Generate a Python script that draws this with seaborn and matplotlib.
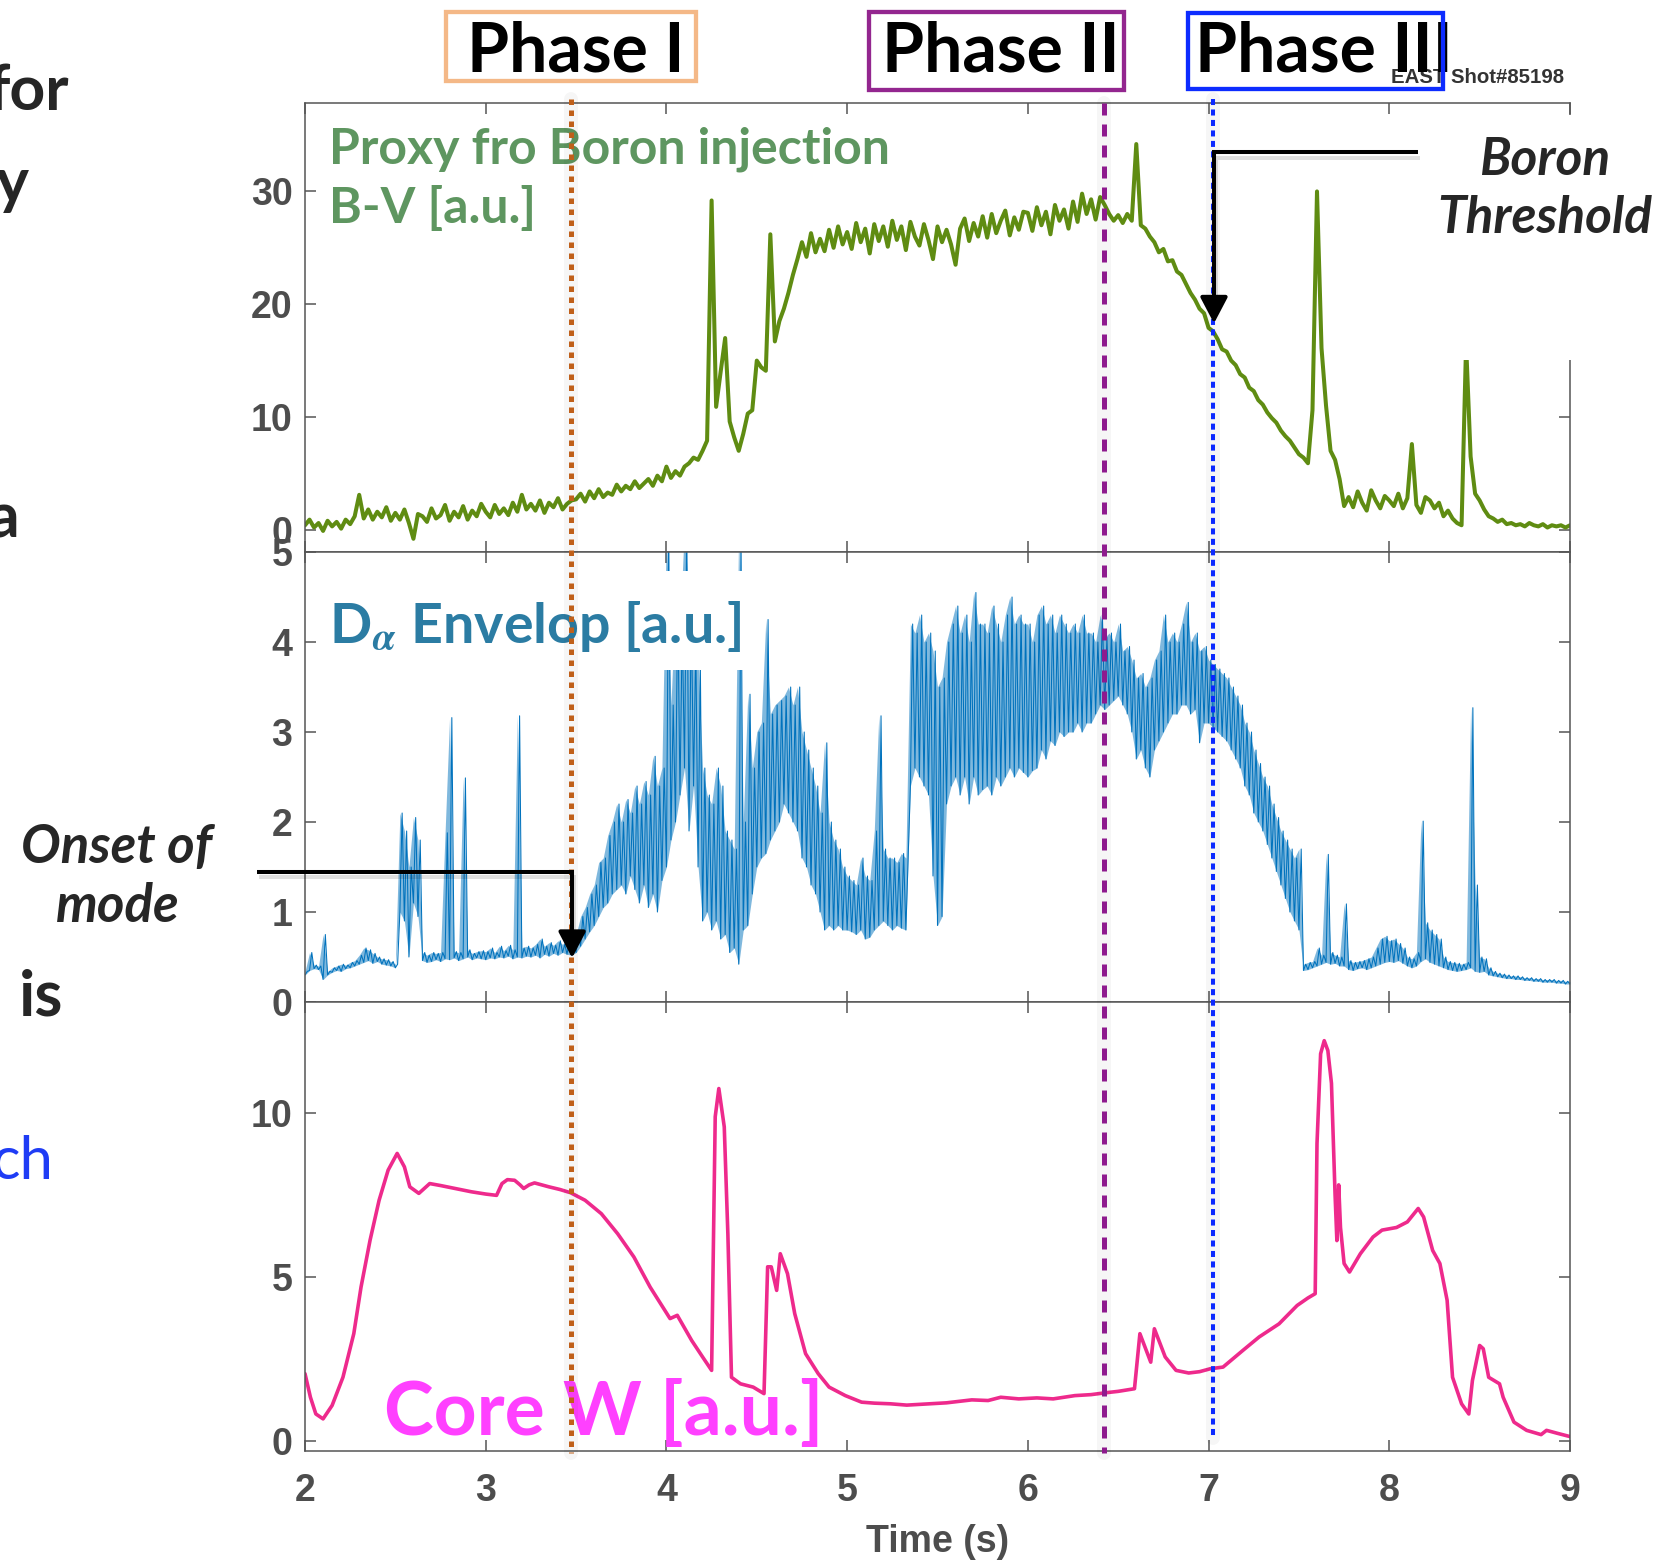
import numpy as np
import pandas as pd
import matplotlib
matplotlib.use("Agg")
import matplotlib.pyplot as plt
import seaborn as sns
from matplotlib.patches import Rectangle, FancyArrowPatch
from matplotlib.lines import Line2D
import matplotlib.patheffects as pe
import matplotlib.transforms as mtrans

# ---------------------------------------------------------------- data
# B-V boron proxy, sampled every 25 ms from 2.0 s to 9.0 s
bv_values = [
    0.4, 0.9, 0.2, 0.6, -0.1, 0.8, 0.3, 0.7, 0.1, 0.9,
    0.5, 1.2, 3.1, 1.0, 1.8, 0.9, 1.6, 1.1, 2.0, 0.8,
    1.5, 0.9, 1.8, 0.6, -0.8, 1.4, 1.2, 0.7, 1.9, 1.0,
    1.3, 2.2, 0.8, 1.6, 1.1, 2.1, 0.9, 1.7, 1.2, 2.3,
    1.6, 1.1, 2.2, 1.4, 1.9, 1.3, 2.4, 1.6, 3.1, 1.8,
    2.3, 1.7, 2.6, 1.5, 2.4, 2.0, 2.8, 1.8, 2.3, 2.6,
    2.7, 3.2, 2.5, 3.4, 2.8, 3.6, 2.9, 3.3, 3.1, 4.0,
    3.4, 3.9, 3.6, 4.3, 3.7, 4.1, 4.5, 3.9, 4.8, 4.3,
    5.6, 4.6, 5.2, 4.8, 5.6, 5.9, 6.4, 6.2, 7.0, 7.9,
    29.2, 10.9, 14.0, 17.0, 9.6, 8.2, 7.0, 8.5, 10.3, 10.6,
    15.0, 14.4, 14.1, 26.2, 16.7, 18.5, 19.6, 21.0, 22.6, 24.0,
    25.5, 24.2, 26.3, 24.6, 25.8, 24.7, 26.6, 25.0, 26.9, 25.3,
    26.4, 24.9, 27.2, 25.5, 26.7, 24.5, 27.1, 25.6, 26.9, 25.1,
    27.4, 25.7, 26.9, 24.8, 27.3, 26.0, 25.2, 27.1, 25.7, 24.0,
    26.9, 25.5, 26.6, 25.3, 23.5, 26.7, 27.6, 25.6, 27.2, 26.0,
    27.8, 25.9, 28.0, 26.3, 27.4, 28.3, 26.1, 27.7, 26.6, 28.2,
    28.1, 26.5, 28.6, 27.0, 28.2, 26.2, 28.8, 27.4, 28.4, 26.7,
    29.1, 27.3, 29.8, 28.0, 29.3, 27.5, 29.5, 28.8, 28.0, 27.4,
    27.9, 27.2, 28.0, 27.4, 34.2, 27.0, 26.7, 26.0, 25.5, 24.6,
    24.9, 23.8, 23.9, 22.9, 22.6, 21.8, 21.0, 20.4, 19.6, 19.2,
    17.9, 17.6, 16.9, 16.0, 15.8, 15.0, 14.6, 13.8, 13.5, 12.6,
    12.3, 11.5, 11.1, 10.4, 9.9, 9.5, 8.8, 8.3, 7.9, 7.3,
    6.7, 6.4, 5.9, 10.6, 30.0, 16.1, 11.0, 7.0, 6.2, 4.5,
    2.1, 2.9, 2.0, 3.4, 2.4, 1.7, 3.5, 2.6, 1.9, 3.0,
    2.6, 2.1, 3.2, 1.9, 2.8, 7.6, 2.2, 1.5, 2.9, 2.6,
    1.9, 2.4, 1.2, 1.7, 1.0, 0.6, 0.4, 16.5, 6.5, 3.2,
    2.6, 1.8, 1.2, 1.0, 0.7, 0.9, 0.5, 0.6, 0.4, 0.5,
    0.3, 0.6, 0.4, 0.3, 0.5, 0.2, 0.4, 0.3, 0.4, 0.2,
    0.4,
]

# D-alpha envelope: lower / upper excursion in each 25 ms window
da_lo = [
    0.30, 0.35, 0.37, 0.36, 0.25, 0.30, 0.33, 0.35, 0.34, 0.37,
    0.38, 0.40, 0.42, 0.44, 0.46, 0.43, 0.45, 0.42, 0.41, 0.40,
    0.38, 1.00, 0.90, 0.50, 1.10, 0.95, 0.46, 0.44, 0.45, 0.47,
    0.45, 0.48, 0.47, 0.49, 0.46, 0.48, 0.50, 0.47, 0.49, 0.48,
    0.47, 0.49, 0.48, 0.50, 0.49, 0.51, 0.48, 0.50, 0.49, 0.51,
    0.50, 0.52, 0.49, 0.53, 0.51, 0.54, 0.52, 0.55, 0.53, 0.52,
    0.55, 0.62, 0.70, 0.78, 0.85, 0.95, 1.05, 1.10, 1.20, 1.25,
    1.30, 1.20, 1.40, 1.25, 1.10, 1.30, 1.05, 1.20, 1.00, 1.35,
    1.50, 1.80, 2.00, 2.30, 2.60, 1.90, 2.40, 1.50, 0.90, 1.00,
    0.80, 0.90, 0.70, 0.75, 0.55, 0.60, 0.42, 0.80, 0.85, 1.20,
    1.50, 1.60, 1.65, 1.80, 1.90, 2.00, 2.20, 2.10, 2.00, 1.90,
    1.60, 1.50, 1.30, 1.20, 1.00, 0.80, 0.85, 0.80, 0.85, 0.80,
    0.80, 0.78, 0.75, 0.80, 0.70, 0.72, 0.80, 0.85, 0.90, 0.85,
    0.80, 0.85, 0.82, 0.80, 2.40, 2.60, 2.50, 2.40, 2.30, 1.40,
    0.85, 0.95, 2.20, 2.40, 2.50, 2.30, 2.50, 2.20, 2.50, 2.30,
    2.36, 2.40, 2.30, 2.50, 2.40, 2.50, 2.60, 2.50, 2.60, 2.55,
    2.50, 2.57, 2.60, 2.80, 2.70, 2.90, 2.85, 3.00, 2.95, 3.00,
    3.00, 3.10, 3.00, 3.10, 3.10, 3.20, 3.30, 3.25, 3.30, 3.35,
    3.40, 3.30, 3.20, 3.00, 2.70, 2.80, 2.60, 2.50, 2.80, 2.90,
    3.00, 3.10, 3.20, 3.20, 3.30, 3.30, 3.20, 3.25, 2.88, 3.10,
    3.10, 3.05, 3.00, 2.95, 2.90, 2.80, 2.70, 2.60, 2.40, 2.30,
    2.10, 2.00, 1.90, 1.75, 1.60, 1.45, 1.30, 1.15, 1.00, 0.90,
    0.80, 0.35, 0.36, 0.38, 0.40, 0.42, 0.44, 0.42, 0.43, 0.40,
    0.40, 0.36, 0.35, 0.37, 0.38, 0.36, 0.38, 0.40, 0.42, 0.44,
    0.45, 0.44, 0.46, 0.43, 0.40, 0.38, 0.40, 0.45, 0.48, 0.44,
    0.42, 0.40, 0.38, 0.36, 0.35, 0.34, 0.35, 0.36, 0.38, 0.34,
    0.33, 0.34, 0.30, 0.29, 0.28, 0.27, 0.26, 0.26, 0.25, 0.25,
    0.24, 0.24, 0.23, 0.23, 0.22, 0.22, 0.22, 0.21, 0.21, 0.20,
    0.20,
]
da_hi = [
    0.34, 0.55, 0.41, 0.40, 0.75, 0.34, 0.38, 0.40, 0.42, 0.41,
    0.44, 0.46, 0.52, 0.60, 0.58, 0.54, 0.50, 0.48, 0.47, 0.45,
    0.42, 2.10, 1.90, 1.50, 2.05, 1.80, 0.55, 0.52, 0.55, 0.54,
    0.55, 1.88, 3.16, 0.56, 0.55, 2.49, 0.58, 0.54, 0.56, 0.57,
    0.56, 0.60, 0.55, 0.62, 0.57, 0.63, 0.58, 3.18, 0.60, 0.62,
    0.60, 0.64, 0.70, 0.62, 0.66, 0.63, 0.68, 0.64, 0.70, 0.62,
    0.75, 0.95, 1.05, 1.20, 1.30, 1.55, 1.60, 1.85, 2.00, 2.20,
    2.00, 2.25, 2.10, 2.40, 2.20, 2.45, 2.30, 2.73, 2.40, 2.60,
    5.30, 3.30, 4.50, 4.20, 5.30, 4.40, 4.00, 3.80, 2.60, 2.30,
    2.20, 2.60, 2.40, 1.90, 1.80, 1.70, 5.30, 2.00, 3.42, 2.60,
    3.00, 3.10, 4.25, 3.20, 3.30, 3.35, 3.40, 3.50, 3.30, 3.50,
    3.00, 2.80, 2.60, 2.40, 2.10, 2.88, 2.00, 1.80, 1.70, 1.50,
    1.40, 1.35, 1.30, 1.60, 1.40, 1.35, 1.90, 3.18, 1.70, 1.60,
    1.60, 1.55, 1.65, 1.60, 4.20, 4.10, 4.30, 4.00, 4.10, 3.90,
    3.50, 3.60, 4.00, 4.20, 4.40, 4.10, 4.30, 4.00, 4.55, 4.20,
    4.20, 4.10, 4.40, 4.20, 4.00, 4.30, 4.50, 4.20, 4.30, 4.20,
    4.20, 4.00, 4.30, 4.40, 4.20, 4.30, 4.10, 4.30, 4.20, 4.10,
    4.20, 4.10, 4.30, 4.10, 4.10, 4.00, 4.30, 4.05, 4.10, 4.00,
    4.20, 3.90, 3.95, 3.80, 3.60, 3.65, 3.50, 3.60, 3.80, 3.90,
    4.30, 4.00, 4.10, 4.00, 4.20, 4.44, 4.00, 4.10, 3.90, 3.95,
    3.80, 3.75, 3.70, 3.65, 3.60, 3.50, 3.40, 3.30, 3.10, 3.00,
    2.80, 2.65, 2.50, 2.40, 2.20, 2.05, 1.90, 1.80, 1.70, 1.60,
    1.70, 0.42, 0.44, 0.45, 0.60, 0.52, 1.64, 0.55, 0.52, 0.50,
    1.09, 0.46, 0.44, 0.45, 0.46, 0.48, 0.50, 0.60, 0.70, 0.73,
    0.68, 0.70, 0.65, 0.60, 0.50, 0.48, 0.55, 2.01, 0.88, 0.80,
    0.75, 0.70, 0.50, 0.45, 0.44, 0.43, 0.42, 0.44, 3.27, 1.30,
    0.50, 0.48, 0.38, 0.34, 0.32, 0.31, 0.30, 0.29, 0.29, 0.28,
    0.27, 0.27, 0.26, 0.26, 0.25, 0.25, 0.25, 0.24, 0.24, 0.23,
    0.23,
]

# Core tungsten radiation
w_t = [2.00, 2.03, 2.06, 2.10, 2.15, 2.21, 2.27, 2.31, 2.36, 2.41,
       2.46, 2.51, 2.55, 2.58, 2.63, 2.69, 2.75, 2.83, 2.92, 3.00,
       3.06, 3.09, 3.12, 3.16, 3.19, 3.21, 3.24, 3.27, 3.31, 3.35,
       3.41, 3.47, 3.55, 3.64, 3.73, 3.82, 3.91, 3.98, 4.02, 4.06,
       4.14, 4.20, 4.25, 4.27, 4.29, 4.32, 4.34, 4.36, 4.41, 4.48,
       4.54, 4.56, 4.58, 4.61, 4.63, 4.67, 4.71, 4.77, 4.84, 4.90,
       4.99, 5.08, 5.15, 5.24, 5.33, 5.45, 5.55, 5.69, 5.78, 5.85,
       5.95, 6.05, 6.14, 6.26, 6.35, 6.42, 6.50, 6.59, 6.62, 6.68,
       6.70, 6.76, 6.82, 6.89, 6.95, 7.01, 7.08, 7.19, 7.28, 7.39,
       7.49, 7.55, 7.59, 7.60, 7.62, 7.64, 7.66, 7.68, 7.70, 7.71,
       7.72, 7.73, 7.75, 7.78, 7.84, 7.91, 7.96, 8.04, 8.10, 8.16,
       8.19, 8.24, 8.28, 8.32, 8.35, 8.40, 8.44, 8.46, 8.50, 8.52,
       8.55, 8.61, 8.63, 8.69, 8.76, 8.84, 8.87, 8.93, 9.00]
w_v = [2.04, 1.32, 0.81, 0.66, 1.07, 1.93, 3.26, 4.68, 6.11, 7.33,
       8.25, 8.76, 8.35, 7.74, 7.54, 7.84, 7.78, 7.69, 7.59, 7.52,
       7.48, 7.84, 7.96, 7.94, 7.80, 7.69, 7.80, 7.86, 7.80, 7.74,
       7.66, 7.56, 7.33, 6.92, 6.31, 5.60, 4.68, 4.07, 3.72, 3.82,
       3.05, 2.55, 2.14, 9.88, 10.74, 9.57, 6.30, 1.93, 1.73, 1.63,
       1.43, 5.30, 5.30, 4.58, 5.70, 5.09, 3.87, 2.65, 2.04, 1.63,
       1.37, 1.17, 1.14, 1.12, 1.08, 1.12, 1.15, 1.24, 1.22, 1.32,
       1.27, 1.30, 1.27, 1.37, 1.40, 1.45, 1.50, 1.58, 3.26, 2.39,
       3.41, 2.55, 2.14, 2.06, 2.10, 2.19, 2.24, 2.75, 3.16, 3.56,
       4.12, 4.35, 4.48, 9.06, 11.8, 12.2, 11.9, 10.9, 7.5, 6.1,
       7.8, 6.5, 5.40, 5.14, 5.70, 6.21, 6.42, 6.50, 6.67, 7.08,
       6.82, 5.80, 5.40, 4.28, 1.93, 1.12, 0.81, 1.83, 2.90, 2.80,
       1.93, 1.73, 1.32, 0.56, 0.31, 0.18, 0.31, 0.22, 0.12]

phase_times = [3.472, 6.421, 7.025]
x_ticks = [2, 3, 4, 5, 6, 7, 8, 9]

# ---------------------------------------------------------------- style
sns.set_style("ticks")
plt.rcParams["font.family"] = ["Lato", "DejaVu Sans"]
plt.rcParams["font.weight"] = "bold"
plt.rcParams["mathtext.fontset"] = "stix"

W, H = 1668, 1560
fig = plt.figure(figsize=(W / 100, H / 100), dpi=100)
fig.patch.set_facecolor("white")


def fx(p):
    return p / W


def fy(p):
    return 1 - p / H


def frame(l, t, r, b):
    return [fx(l), fy(b), (r - l) / W, (b - t) / H]


ax_bv = fig.add_axes(frame(305, 103, 1570, 552))
ax_da = fig.add_axes(frame(305, 552, 1570, 1002))
ax_w = fig.add_axes(frame(305, 1002, 1570, 1451))

# ---------------------------------------------------------------- traces
bv_t = np.linspace(2.0, 9.0, len(bv_values))
df_bv = pd.DataFrame({"t": bv_t, "v": bv_values})
sns.lineplot(data=df_bv, x="t", y="v", ax=ax_bv, color="#5f8c12",
             linewidth=2.9, estimator=None, sort=False)

da_t = np.linspace(2.0, 9.0, len(da_lo))
ax_da.fill_between(da_t, da_lo, da_hi, color="#0072bd", alpha=0.5,
                   linewidth=0)
zig_t = np.column_stack([da_t, da_t + 0.0125]).ravel()
zig_v = np.column_stack([da_lo, da_hi]).ravel()
df_da = pd.DataFrame({"t": zig_t, "v": zig_v})
sns.lineplot(data=df_da, x="t", y="v", ax=ax_da, color="#0072bd",
             linewidth=0.75, estimator=None, sort=False)

df_w = pd.DataFrame({"t": w_t, "v": w_v})
sns.lineplot(data=df_w, x="t", y="v", ax=ax_w, color="#ee2a8c",
             linewidth=2.6, estimator=None, sort=False)

ax_bv.set_ylim(-1.97, 37.84)
ax_da.set_ylim(0, 5)
ax_w.set_ylim(-0.32, 13.38)
ax_bv.set_yticks([0, 10, 20, 30])
ax_da.set_yticks([0, 1, 2, 3, 4, 5])
ax_w.set_yticks([0, 5, 10])

for ax in (ax_bv, ax_da, ax_w):
    ax.set_xlim(2, 9)
    ax.set_xticks(x_ticks)
    ax.set_facecolor("white")
    ax.set_xlabel("")
    ax.set_ylabel("")
    for s in ax.spines.values():
        s.set_visible(True)
        s.set_color("#555555")
        s.set_linewidth(1.1)
    ax.tick_params(direction="in", length=8, width=1.1, color="#555555",
                   labelcolor="#4d4d4d", labelsize=27, top=True, right=True,
                   labelfontfamily="Liberation Sans")
    ax.tick_params(axis="y", pad=9)
    ax.tick_params(axis="x", pad=16)
    for lab in ax.get_xticklabels() + ax.get_yticklabels():
        lab.set_fontweight("bold")

ax_bv.tick_params(labelbottom=False)
ax_da.tick_params(labelbottom=False)
ax_w.set_xlabel("Time (s)", fontsize=27, family="Liberation Sans",
                weight="bold", color="#4d4d4d")
ax_w.xaxis.set_label_coords(0.5, -0.162)

# ---------------------------------------------------------------- panel labels
fig.add_artist(Rectangle((2.07, 3.69), 4.53 - 2.07, 4.79 - 3.69,
                         transform=ax_da.transData, fc="white", ec="none",
                         zorder=1))
fig.add_artist(Rectangle((fx(1430), fy(360)), (W - 1430) / W, (360 - 115) / H,
                         transform=fig.transFigure, fc="white", ec="none",
                         zorder=1))

fig.text(fx(329), fy(163), "Proxy fro Boron injection", fontsize=36,
         color="#5e9660", weight="bold", va="baseline", zorder=2)
fig.text(fx(329), fy(223), "B-V [a.u.]", fontsize=36,
         color="#5e9660", weight="bold", va="baseline", zorder=2)
fig.text(fx(329), fy(643), r"D$_{\alpha}$ Envelop [a.u.]", fontsize=40,
         color="#2b7ca3", weight="bold", va="baseline", zorder=2)
fig.text(fx(384), fy(1435), "Core W [a.u.]", fontsize=54,
         color="#ff40ff", weight="bold", va="baseline", zorder=2)

fig.text(fx(1545), fy(175), "Boron", fontsize=37, style="italic",
         weight="bold", ha="center", va="baseline", zorder=2)
fig.text(fx(1545), fy(233), "Threshold", fontsize=37, style="italic",
         weight="bold", ha="center", va="baseline", zorder=2)
fig.text(fx(117), fy(863), "Onset of", fontsize=38, style="italic",
         weight="bold", ha="center", va="baseline", zorder=2)
fig.text(fx(118), fy(922), "mode", fontsize=38, style="italic",
         weight="bold", ha="center", va="baseline", zorder=2)

# slide text running in from the left edge
fig.text(fx(69), fy(110), "for", fontsize=45, weight="bold", ha="right", va="baseline")
fig.text(fx(29), fy(202), "y", fontsize=45, weight="bold", ha="right", va="baseline")
fig.text(fx(19), fy(537), "a", fontsize=45, weight="bold", ha="right", va="baseline")
fig.text(fx(19), fy(1015), "is", fontsize=46, weight="bold", ha="left", va="baseline")
fig.text(fx(53), fy(1179), "ch", fontsize=43, weight="normal", color="#1f3cf5",
         ha="right", va="baseline")

# ---------------------------------------------------------------- phase markers
vtrans = mtrans.blended_transform_factory(ax_w.transData, fig.transFigure)
phase_style = [
    (99, 1453, "#c0601a", 3.6, (1.1, 1.1)),
    (103, 1453, "#8e1a8e", 3.6, (2.4, 1.8)),
    (99, 1438, "#0a28ff", 2.9, (1.5, 1.1)),
]
for t, (top, bot, col, lw, dash) in zip(phase_times, phase_style):
    fig.add_artist(Line2D([t, t], [fy(top), fy(bot)], transform=vtrans,
                          color="black", alpha=0.035, lw=10, zorder=3))
    fig.add_artist(Line2D([t, t], [fy(top), fy(bot)], transform=vtrans,
                          color=col, lw=lw, linestyle=(0, dash),
                          dash_capstyle="butt", zorder=3.1))

shadow = [pe.SimpleLineShadow(offset=(1.5, -4), shadow_color="black", alpha=0.12),
          pe.Normal()]
# boron threshold arrow
fig.add_artist(Line2D([8.157, 7.03, 7.03], [33.5, 33.5, 21.0],
                      transform=ax_bv.transData, color="black", lw=2.9,
                      solid_joinstyle="miter", solid_capstyle="butt",
                      zorder=4, path_effects=shadow))
fig.add_artist(FancyArrowPatch((7.03, 22.0), (7.03, 18.3),
                               transform=ax_bv.transData,
                               arrowstyle="-|>,head_length=0.8,head_width=0.42",
                               mutation_scale=20, color="black", lw=2.9,
                               shrinkA=0, shrinkB=0, zorder=4))
# onset arrow
fig.add_artist(Line2D([1.733, 3.478, 3.478], [1.449, 1.449, 0.72],
                      transform=ax_da.transData, color="black", lw=2.9,
                      solid_joinstyle="miter", solid_capstyle="butt",
                      zorder=4, path_effects=shadow))
fig.add_artist(FancyArrowPatch((3.478, 0.80), (3.478, 0.49),
                               transform=ax_da.transData,
                               arrowstyle="-|>,head_length=0.8,head_width=0.42",
                               mutation_scale=20, color="black", lw=2.9,
                               shrinkA=0, shrinkB=0, zorder=4))

# ---------------------------------------------------------------- phase titles
fig.text(fx(1391), fy(83), "EAST Shot#85198", fontsize=14.7,
         family="Liberation Sans", weight="bold", color="#333333",
         va="baseline", zorder=5)
titles = [
    ("Phase I", 575.5, "center", (446, 12, 696, 81), "#f4b887"),
    ("Phase II", 1001, "center", (869, 12, 1124, 90), "#93268f"),
    ("Phase III", 1195, "left", (1188, 13, 1443, 89), "#0d2cff"),
]
for label, xpos, ha, (l, t, r, b), col in titles:
    fig.text(fx(xpos), fy(71), label, fontsize=49, weight="bold",
             color="black", ha=ha, va="baseline", zorder=5)
    fig.add_artist(Rectangle((fx(l), fy(b)), (r - l) / W, (b - t) / H,
                             transform=fig.transFigure, fill=False,
                             ec=col, lw=3.1, zorder=6))

fig.savefig("out.png", dpi=100, facecolor="white")
